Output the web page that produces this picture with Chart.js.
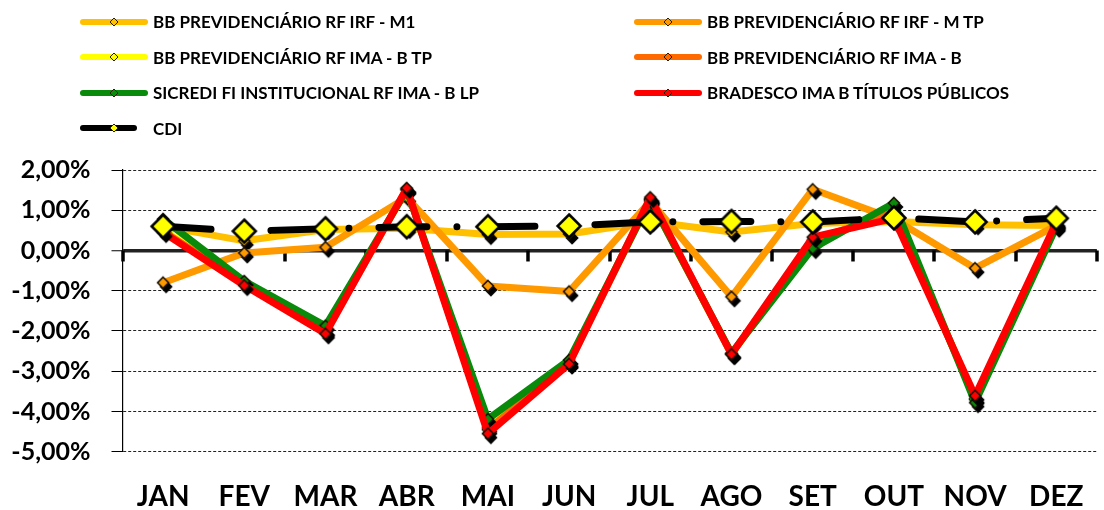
<!DOCTYPE html>
<html>
<head>
<meta charset="utf-8">
<script src="https://cdn.jsdelivr.net/npm/chart.js@4.4.1/dist/chart.umd.min.js"></script>
<style>
  html, body { margin: 0; padding: 0; background: #fff; overflow: hidden; }
  #wrap { position: relative; width: 1112px; height: 510px; }
  #chart { position: absolute; left: 0; top: 0; }
  #legend {
    position: absolute; left: 80px; top: 4px;
    display: grid; grid-template-columns: 554px 420px; grid-auto-rows: 35.5px;
    font: bold 17px Lato, sans-serif; color: #000;
  }
  .item { display: flex; align-items: center; white-space: nowrap; }
  .item canvas { margin-right: 5px; }
</style>
</head>
<body>
<div id="wrap">
  <canvas id="chart" width="1112" height="510"></canvas>
  <div id="legend"></div>
</div>
<script>
// --- Data (monthly returns, %) ---
const months = ['JAN', 'FEV', 'MAR', 'ABR', 'MAI', 'JUN', 'JUL', 'AGO', 'SET', 'OUT', 'NOV', 'DEZ'];

const bbIrfM1  = [0.60, 0.24, 0.52, 0.55, 0.40, 0.41, 0.72, 0.46, 0.67, 0.72, 0.64, 0.62];
const bbIrfMTp = [-0.80, -0.06, 0.08, 1.32, -0.88, -1.02, 1.22, -1.15, 1.52, 0.78, -0.44, 0.62];
const bbImaBTp = [0.52, -0.80, -2.00, 1.52, -4.40, -2.78, 1.28, -2.57, 0.20, 1.00, -3.70, 0.66];
const bbImaB   = [0.48, -0.83, -2.03, 1.53, -4.45, -2.80, 1.27, -2.58, 0.25, 0.95, -3.68, 0.66];
const sicredi  = [0.78, -0.76, -1.87, 1.50, -4.19, -2.72, 1.25, -2.55, 0.05, 1.18, -3.78, 0.58];
const bradesco = [0.45, -0.87, -2.07, 1.55, -4.55, -2.82, 1.32, -2.58, 0.33, 0.80, -3.61, 0.70];
const cdi      = [0.60, 0.48, 0.54, 0.59, 0.59, 0.61, 0.71, 0.72, 0.71, 0.81, 0.71, 0.80];

const seriesNames = [
    'BB PREVIDENCIÁRIO RF IRF - M1',
    'BB PREVIDENCIÁRIO RF IRF - M TP',
    'BB PREVIDENCIÁRIO RF IMA - B TP',
    'BB PREVIDENCIÁRIO RF IMA - B',
    'SICREDI FI INSTITUCIONAL RF IMA - B LP',
    'BRADESCO IMA B TÍTULOS PÚBLICOS',
    'CDI'
];
const seriesValues = [bbIrfM1, bbIrfMTp, bbImaBTp, bbImaB, sicredi, bradesco, cdi];
const seriesColors = ['#FFC000', '#FF9900', '#FFFF00', '#FF6A00', '#0A8A0A', '#FF0000', '#000000'];

const yMin = -5;
const yMax = 2;

// --- Markers ---
function diamond(fill, half, stroke, lw, shadow) {
    const pad = Math.ceil(half + lw + (shadow ? 5 : 0)) + 1;
    const c = document.createElement('canvas');
    c.width = c.height = pad * 2;
    const g = c.getContext('2d');
    const path = (cx, cy) => {
        g.beginPath();
        g.moveTo(cx, cy - half);
        g.lineTo(cx + half, cy);
        g.lineTo(cx, cy + half);
        g.lineTo(cx - half, cy);
        g.closePath();
    };
    if (shadow) {
        path(pad + 3, pad + 4);
        g.fillStyle = '#000';
        g.fill();
        g.lineWidth = lw;
        g.strokeStyle = '#000';
        g.stroke();
    }
    path(pad, pad);
    g.fillStyle = fill;
    g.fill();
    g.lineWidth = lw;
    g.strokeStyle = stroke;
    g.stroke();
    return c;
}

const isCdi = i => i === seriesNames.length - 1;

// --- Tick marks on the zero line (category axis crosses at 0) ---
const zeroAxisTicks = {
    id: 'zeroAxisTicks',
    beforeDatasetsDraw(chart) {
        const { ctx, scales: { x, y } } = chart;
        const y0 = y.getPixelForValue(0);
        const step = x.width / months.length;
        ctx.save();
        ctx.strokeStyle = '#000';
        ctx.lineWidth = 3.5;
        for (let i = 0; i <= months.length; i++) {
            const px = Math.round(x.left + i * step);
            ctx.beginPath();
            ctx.moveTo(px, y0);
            ctx.lineTo(px, y0 + 11);
            ctx.stroke();
        }
        ctx.restore();
    }
};

const datasets = seriesNames.map((name, i) => ({
    label: name,
    data: seriesValues[i],
    borderColor: seriesColors[i],
    backgroundColor: seriesColors[i],
    borderWidth: 7,
    borderDash: isCdi(i) ? [48, 30, 0.01, 30] : [],
    borderCapStyle: 'round',
    borderJoinStyle: 'round',
    tension: 0,
    fill: false,
    pointStyle: isCdi(i)
        ? diamond('#FFFF00', 11.5, '#000', 2.5, false)
        : diamond(seriesColors[i], 5.5, '#1a1200', 1.6, true),
    pointRadius: 6,
    pointHoverRadius: 6,
    order: seriesNames.length - 1 - i
}));

const chart = new Chart(document.getElementById('chart'), {
    type: 'line',
    data: { labels: months, datasets: datasets },
    options: {
        responsive: false,
        animation: false,
        layout: { padding: { top: 170, left: 10, right: 1, bottom: 0 } },
        plugins: { legend: { display: false }, tooltip: { enabled: false } },
        scales: {
            x: {
                offset: true,
                grid: { display: false, drawTicks: false },
                border: { display: false },
                ticks: {
                    color: '#000',
                    padding: 28,
                    autoSkip: false,
                    maxRotation: 0,
                    font: { family: 'Lato', weight: 'bold', size: 28 }
                },
                afterFit: s => { s.height = 510 - 451.7; }
            },
            y: {
                min: yMin,
                max: yMax,
                ticks: {
                    stepSize: 1,
                    padding: 21,
                    color: '#000',
                    font: { family: 'Lato', weight: 'bold', size: 25 },
                    callback: v => v.toFixed(2).replace('.', ',') + '%'
                },
                grid: {
                    color: '#222',
                    lineWidth: c => (c.tick && c.tick.value === 0) ? 3.5 : 1,
                    tickLength: 11,
                    tickWidth: 1,
                    tickColor: '#000'
                },
                border: {
                    display: true,
                    color: '#000',
                    width: 1.2,
                    dash: c => (c.tick && c.tick.value !== 0) ? [3, 2] : []
                },
                afterFit: s => { s.width = 112.5; }
            }
        }
    },
    plugins: [zeroAxisTicks]
});

// --- HTML legend, two columns like the original ---
function buildLegend(chart) {
    const box = document.getElementById('legend');
    chart.data.datasets.forEach((ds, i) => {
        const item = document.createElement('div');
        item.className = 'item';
        const c = document.createElement('canvas');
        c.width = 68;
        c.height = 16;
        const g = c.getContext('2d');
        g.strokeStyle = ds.borderColor;
        g.lineWidth = 6;
        g.lineCap = 'round';
        g.beginPath();
        g.moveTo(3, 8);
        g.lineTo(isCdi(i) ? 54 : 65, 8);
        g.stroke();
        const mk = diamond(isCdi(i) ? '#FFFF00' : ds.borderColor, 4, '#2a1f00', 1, false);
        g.drawImage(mk, 34 - mk.width / 2, 8 - mk.height / 2);
        const txt = document.createElement('span');
        txt.textContent = ds.label;
        item.appendChild(c);
        item.appendChild(txt);
        box.appendChild(item);
    });
}
buildLegend(chart);
</script>
</body>
</html>
